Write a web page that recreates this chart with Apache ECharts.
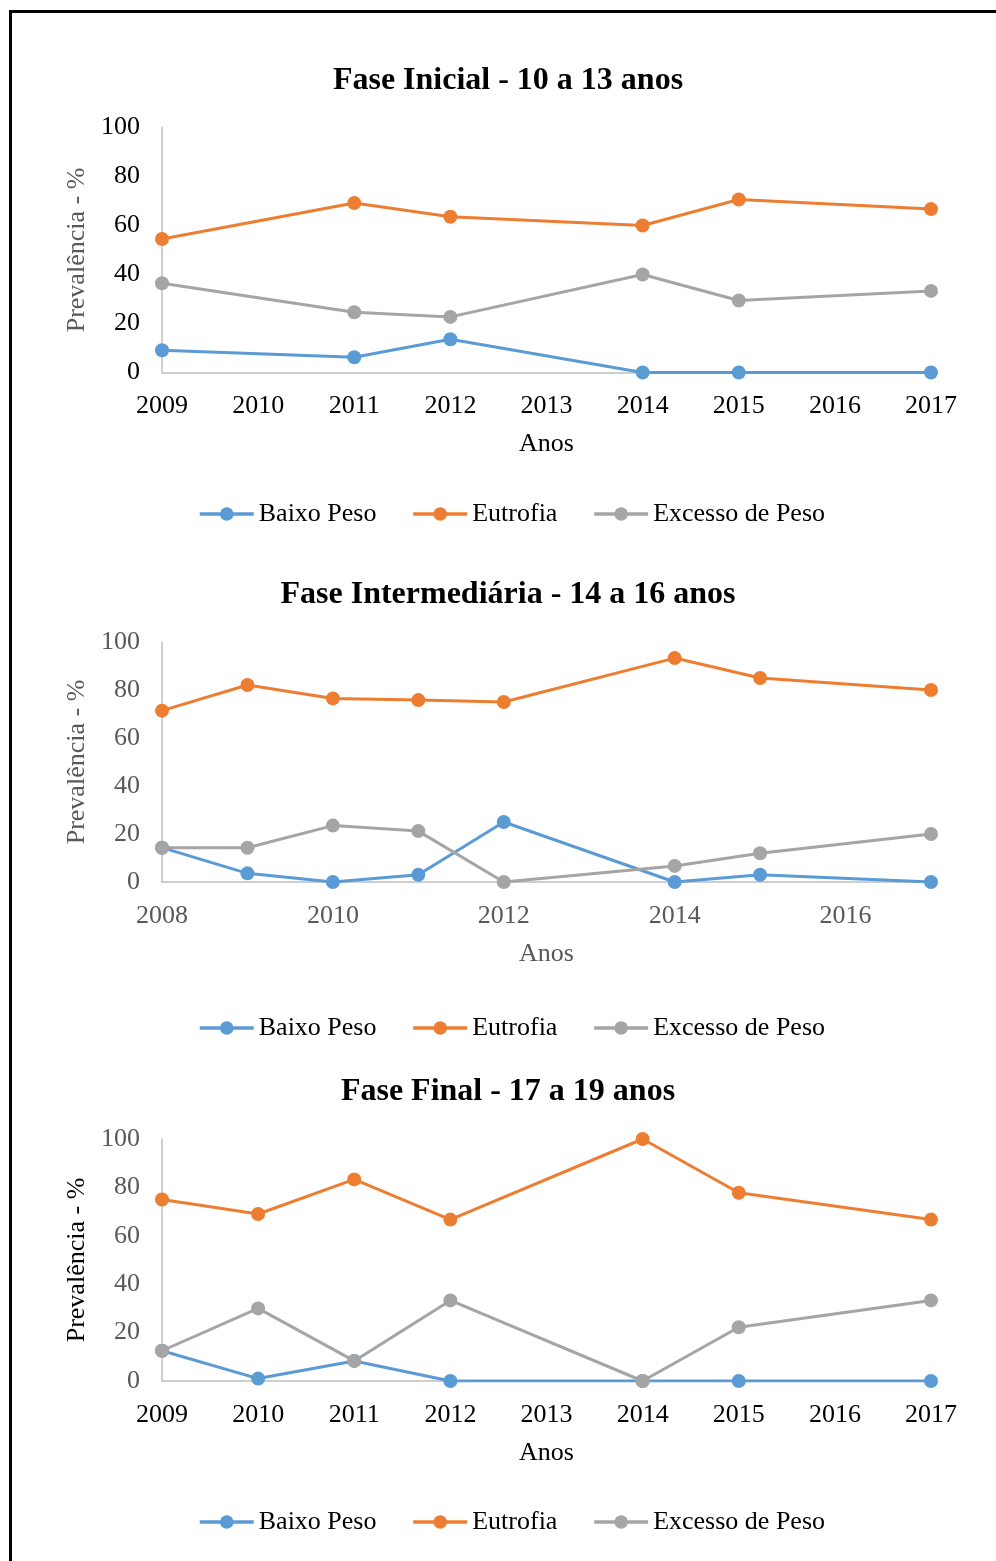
<!DOCTYPE html>
<html>
<head>
<meta charset="utf-8">
<title>Prevalência</title>
<script src="https://cdn.jsdelivr.net/npm/echarts@6/dist/echarts.min.js"></script>
<style>
    html, body { margin: 0; padding: 0; background: #fff; }
    #chart { width: 996px; height: 1561px; }
</style>
</head>
<body>
<div id="chart"></div>
<script>
// Fase Inicial - 10 a 13 anos
const anos1 = [2009, 2011, 2012, 2014, 2015, 2017];
const baixo1 = [9.1, 6.2, 13.6, 0, 0, 0];
const eutrofia1 = [54.5, 69.2, 63.6, 60, 70.6, 66.7];
const excesso1 = [36.4, 24.6, 22.7, 40, 29.4, 33.3];

// Fase Intermediária - 14 a 16 anos
const anos2 = [2008, 2009, 2010, 2011, 2012, 2014, 2015, 2017];
const baixo2 = [14.3, 3.6, 0, 3.0, 25, 0, 3.0, 0];
const eutrofia2 = [71.4, 82.1, 76.5, 75.8, 75, 93.3, 85, 80];
const excesso2 = [14.3, 14.3, 23.5, 21.2, 0, 6.7, 12, 20];

// Fase Final - 17 a 19 anos
const anos3 = [2009, 2010, 2011, 2012, 2014, 2015, 2017];
const baixo3 = [12.5, 1, 8.3, 0, 0, 0, 0];
const eutrofia3 = [75, 69, 83.3, 66.7, 100, 77.8, 66.7];
const excesso3 = [12.5, 30, 8.3, 33.3, 0, 22.2, 33.3];

const titulos = ['Fase Inicial - 10 a 13 anos', 'Fase Intermediária - 14 a 16 anos', 'Fase Final - 17 a 19 anos'];
const nomes = ['Baixo Peso', 'Eutrofia', 'Excesso de Peso'];
const cores = ['#5B9BD5', '#ED7D31', '#A5A5A5'];

const FONT = 'Liberation Serif';
const BLACK = '#000';
const GRAY = '#595959';

const paineis = [
    { anos: anos1, series: [baixo1, eutrofia1, excesso1], xMin: 2009, xMax: 2017, xStep: 1,
      top: 127.5, height: 245, titleTop: 60, legendTop: 501,
      xColor: BLACK, yColor: BLACK, yNameColor: GRAY, xNameColor: BLACK },
    { anos: anos2, series: [baixo2, eutrofia2, excesso2], xMin: 2008, xMax: 2017, xStep: 2,
      top: 642, height: 240, titleTop: 574, legendTop: 1015,
      xColor: GRAY, yColor: GRAY, yNameColor: GRAY, xNameColor: GRAY },
    { anos: anos3, series: [baixo3, eutrofia3, excesso3], xMin: 2009, xMax: 2017, xStep: 1,
      top: 1139, height: 242, titleTop: 1071, legendTop: 1509,
      xColor: BLACK, yColor: GRAY, yNameColor: BLACK, xNameColor: BLACK },
];

const pares = (anos, valores) => anos.map((a, i) => [a, valores[i]]);

const option = {
    animation: false,
    textStyle: { fontFamily: FONT },
    title: [],
    legend: [],
    grid: [],
    xAxis: [],
    yAxis: [],
    series: [],
    graphic: [
        {
            type: 'rect',
            shape: { x: 10.5, y: 11.5, width: 1100, height: 1700 },
            style: { fill: 'none', stroke: '#000', lineWidth: 3 },
        },
    ],
};

paineis.forEach((p, idx) => {
    option.title.push({
        text: titulos[idx],
        left: 503,
        top: p.titleTop,
        textAlign: 'center',
        textStyle: { fontFamily: FONT, fontSize: 32, fontWeight: 'bold', color: BLACK },
    });
    option.legend.push({
        data: nomes,
        left: 198,
        top: p.legendTop,
        padding: 0,
        itemWidth: 54,
        itemHeight: 17,
        itemGap: 35,
        lineStyle: { width: 3.5 },
        textStyle: { fontFamily: FONT, fontSize: 26, color: BLACK },
    });
    option.grid.push({ left: 162, width: 769, top: p.top, height: p.height });
    option.xAxis.push({
        type: 'value',
        gridIndex: idx,
        min: p.xMin,
        max: p.xMax,
        interval: p.xStep,
        name: 'Anos',
        nameLocation: 'middle',
        nameGap: 59,
        nameTextStyle: { fontFamily: FONT, fontSize: 26, color: p.xNameColor },
        axisLine: { show: true, lineStyle: { color: '#BFBFBF', width: 1.5 } },
        axisTick: { show: false },
        splitLine: { show: false },
        axisLabel: {
            fontFamily: FONT,
            fontSize: 26,
            color: p.xColor,
            margin: 21,
            showMaxLabel: p.xStep === 1,
            formatter: (v) => String(v),
        },
    });
    option.yAxis.push({
        type: 'value',
        gridIndex: idx,
        min: 0,
        max: 100,
        interval: 20,
        name: 'Prevalência - %',
        nameLocation: 'middle',
        nameGap: 72,
        nameTextStyle: { fontFamily: FONT, fontSize: 26, color: p.yNameColor },
        axisLine: { show: true, lineStyle: { color: '#BFBFBF', width: 1.5 } },
        axisTick: { show: false },
        splitLine: { show: false },
        axisLabel: { fontFamily: FONT, fontSize: 26, color: p.yColor, margin: 22 },
    });
    p.series.forEach((valores, s) => {
        option.series.push({
            name: nomes[s],
            type: 'line',
            xAxisIndex: idx,
            yAxisIndex: idx,
            data: pares(p.anos, valores),
            symbol: 'circle',
            symbolSize: 14,
            color: cores[s],
            lineStyle: { width: 3, color: cores[s] },
            itemStyle: { color: cores[s] },
            emphasis: { disabled: true },
        });
    });
});

const myChart = echarts.init(document.getElementById('chart'), null, { renderer: 'canvas' });
myChart.setOption(option);
</script>
</body>
</html>
